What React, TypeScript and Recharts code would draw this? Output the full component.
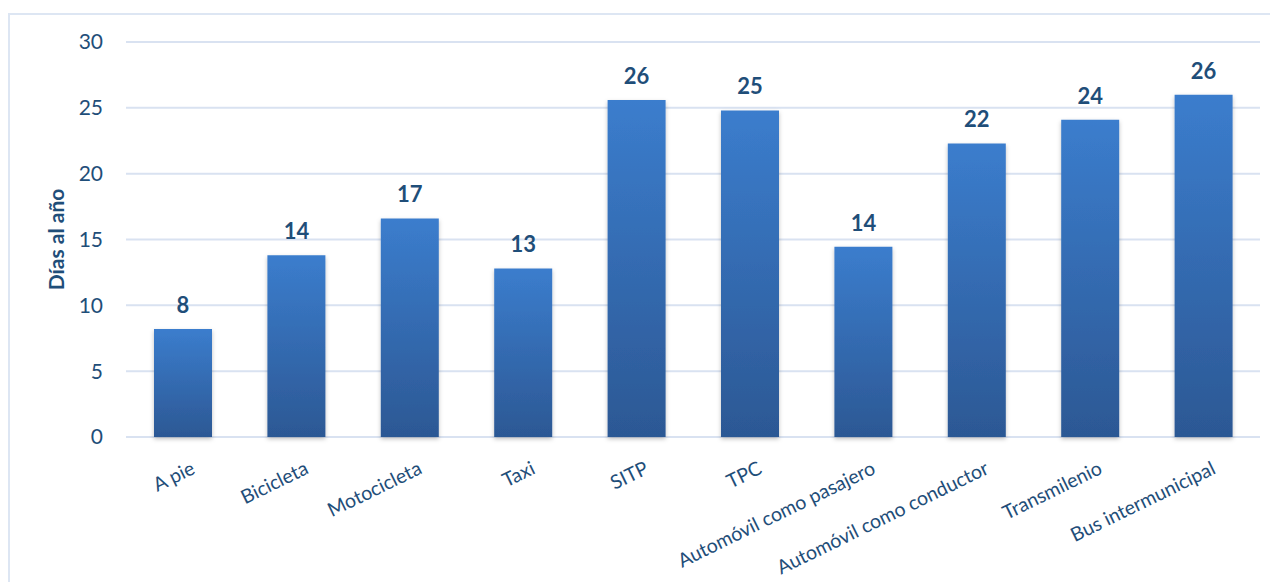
import { BarChart, Bar, XAxis, YAxis, CartesianGrid, LabelList } from "recharts";

const categories = [
  "A pie",
  "Bicicleta",
  "Motocicleta",
  "Taxi",
  "SITP",
  "TPC",
  "Automóvil como pasajero",
  "Automóvil como conductor",
  "Transmilenio",
  "Bus intermunicipal",
];
const dias = [8.2, 13.8, 16.6, 12.8, 25.6, 24.8, 14.45, 22.3, 24.1, 26.0];
const yTicks = [0, 5, 10, 15, 20, 25, 30];

const data = categories.map((name, i) => ({ name, dias: dias[i] }));

const TEXT = "#1f4e79";
const FONT = "Lato, 'Open Sans', sans-serif";

function XTick({ x, y, payload }: any) {
  return (
    <g transform={`translate(${x},${y})`}>
      <text
        x={0}
        y={0}
        dy={31}
        textAnchor="end"
        transform="rotate(-26)"
        fill={TEXT}
        fontSize={19.5}
        fontFamily={FONT}
      >
        {payload.value}
      </text>
    </g>
  );
}

function YLabel({ viewBox }: any) {
  const cx = viewBox.x + 54;
  const cy = viewBox.y + viewBox.height / 2;
  return (
    <text
      x={cx}
      y={cy}
      transform={`rotate(-90, ${cx}, ${cy})`}
      textAnchor="middle"
      fill={TEXT}
      fontSize={21}
      fontWeight="bold"
      fontFamily={FONT}
    >
      Días al año
    </text>
  );
}

export default function App() {
  return (
    <div style={{ paddingTop: 5 }}>
      <div
        style={{
          width: 1268,
          height: 575,
          borderTop: "2px solid #dde6f3",
          borderLeft: "2px solid #dde6f3",
          background: "#fff",
        }}
      >
        <BarChart
          width={1268}
          height={567}
          data={data}
          margin={{ top: 27, right: 18, left: 0, bottom: 0 }}
          style={{ overflow: "visible" }}
        >
          <defs>
            <linearGradient id="barGrad" x1="0" y1="0" x2="0" y2="1">
              <stop offset="0%" stopColor="#3b7dcd" />
              <stop offset="100%" stopColor="#2c5894" />
            </linearGradient>
            <filter id="shadow" x="-20%" y="-5%" width="140%" height="115%">
              <feDropShadow dx="0" dy="2" stdDeviation="2" floodColor="#000" floodOpacity="0.25" />
            </filter>
          </defs>
          <CartesianGrid vertical={false} stroke="#d9e2f1" strokeWidth={2} />
          <XAxis
            dataKey="name"
            interval={0}
            axisLine={false}
            tickLine={false}
            height={145}
            tick={<XTick />}
          />
          <YAxis
            domain={[0, 30]}
            ticks={yTicks}
            width={116}
            axisLine={false}
            tickLine={false}
            tickSize={0}
            tickMargin={23}
            tick={{ fill: TEXT, fontSize: 21, fontFamily: FONT }}
            label={<YLabel />}
          />
          <Bar
            dataKey="dias"
            fill="url(#barGrad)"
            barSize={58}
            filter="url(#shadow)"
            isAnimationActive={false}
          >
            <LabelList
              dataKey="dias"
              position="top"
              offset={16}
              formatter={(v: any) => Math.round(Number(v))}
              fill={TEXT}
              fontSize={22}
              fontWeight="bold"
              fontFamily={FONT}
            />
          </Bar>
        </BarChart>
      </div>
    </div>
  );
}
